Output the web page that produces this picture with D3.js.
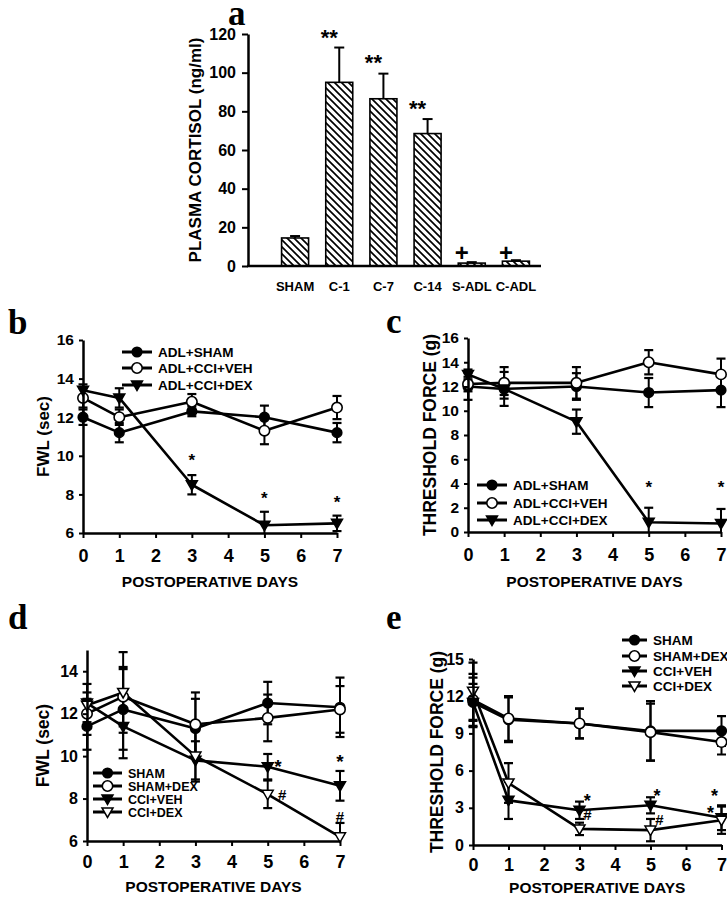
<!DOCTYPE html>
<html><head><meta charset="utf-8">
<script src="https://cdn.jsdelivr.net/npm/d3@7"></script>
<style>
body{margin:0;background:#fff}
text{font-family:"Liberation Sans",Arial,Helvetica,sans-serif;font-weight:bold;fill:#000}
text.panel{font-family:"Liberation Serif","Times New Roman",serif;font-weight:bold}
</style>
</head><body>
<svg id="fig" width="727" height="900"></svg>
<script>
// ---------- Panel a data ----------
const cortisolCategories = ["SHAM","C-1","C-7","C-14","S-ADL","C-ADL"];
const cortisolMeans = [14.5, 95, 86.5, 68.5, 1.5, 2.5];
const cortisolErrors = [1.0, 18, 13, 7.5, 0.5, 0.5];
const cortisolTicks = [0,20,40,60,80,100,120];
const cortisolMarkCats = ["C-1","C-7","C-14","S-ADL","C-ADL"];
const cortisolMarkValues = [120.8, 107.9, 84, 7, 7];
const cortisolMarkTexts = ["**","**","**","+","+"];

// ---------- Shared ----------
const days = [0,1,3,5,7];
const dayTicks = [0,1,2,3,4,5,6,7];

// ---------- Panel b data (FWL, sec) ----------
const bNames = ["ADL+SHAM","ADL+CCI+VEH","ADL+CCI+DEX"];
const bShamMean = [12.0, 11.2, 12.3, 12.0, 11.2];
const bShamErr  = [0.4, 0.5, 0.25, 0.6, 0.5];
const bVehMean  = [13.0, 12.0, 12.8, 11.3, 12.5];
const bVehErr   = [0.5, 0.4, 0.4, 0.7, 0.6];
const bDexMean  = [13.4, 13.0, 8.5, 6.4, 6.5];
const bDexErr   = [0.3, 0.5, 0.5, 0.7, 0.4];
const bTicks = [6,8,10,12,14,16];
const bMarkDays = [3,5,7];
const bMarkValues = [9.95, 7.97, 7.8];
const bMarkTexts = ["*","*","*"];

// ---------- Panel c data (threshold force, g) ----------
const cNames = ["ADL+SHAM","ADL+CCI+VEH","ADL+CCI+DEX"];
const cShamMean = [12.0, 11.8, 12.0, 11.5, 11.7];
const cShamErr  = [1.1, 1.4, 1.1, 1.2, 1.4];
const cVehMean  = [12.2, 12.3, 12.3, 14.0, 13.0];
const cVehErr   = [0.6, 1.3, 1.3, 1.0, 1.3];
const cDexMean  = [13.0, 11.8, 9.1, 0.8, 0.7];
const cDexErr   = [0.4, 0.5, 1.0, 1.2, 1.2];
const cTicks = [0,2,4,6,8,10,12,14,16];
const cMarkDays = [5,7];
const cMarkValues = [4.0, 4.0];
const cMarkTexts = ["*","*"];

// ---------- Panel d data (FWL, sec) ----------
const dNames = ["SHAM","SHAM+DEX","CCI+VEH","CCI+DEX"];
const dShamMean    = [11.4, 12.2, 11.3, 12.5, 12.3];
const dShamErr     = [1.1, 1.9, 1.4, 1.0, 1.4];
const dShamDexMean = [12.0, 12.8, 11.5, 11.8, 12.2];
const dShamDexErr  = [1.0, 1.4, 1.5, 1.1, 1.1];
const dCciVehMean  = [12.5, 11.4, 9.8, 9.5, 8.6];
const dCciVehErr   = [0.9, 1.5, 0.9, 0.6, 0.7];
const dCciDexMean  = [12.4, 13.0, 10.0, 8.2, 6.2];
const dCciDexErr   = [0.3, 1.9, 1.2, 0.65, 0.65];
const dTicks = [6,8,10,12,14];
const dMarkDays = [5.28, 5.40, 7.0, 7.0];
const dMarkValues = [9.72, 8.17, 9.96, 7.13];
const dMarkTexts = ["*","#","*","#"];

// ---------- Panel e data (threshold force, g) ----------
const eNames = ["SHAM","SHAM+DEX","CCI+VEH","CCI+DEX"];
const eShamMean    = [11.5, 10.1, 9.8, 9.2, 9.2];
const eShamErr     = [2.0, 1.8, 1.2, 2.4, 1.2];
const eShamDexMean = [11.7, 10.2, 9.8, 9.1, 8.3];
const eShamDexErr  = [2.1, 1.8, 1.2, 2.3, 1.0];
const eCciVehMean  = [11.5, 3.6, 2.8, 3.2, 2.2];
const eCciVehErr   = [1.5, 1.5, 0.7, 0.65, 1.0];
const eCciDexMean  = [12.4, 5.0, 1.3, 1.2, 2.0];
const eCciDexErr   = [2.3, 1.6, 0.5, 0.9, 1.1];
const eTicks = [0,3,6,9,12,15];
const eMarkDays = [3.22, 3.22, 5.18, 5.25, 6.8, 6.69];
const eMarkValues = [3.85, 2.4, 4.3, 2.0, 4.3, 2.9];
const eMarkTexts = ["*","#","*","#","*","*"];

// ---------- Drawing ----------
const svg = d3.select("#fig");
const defs = svg.append("defs");
const pat = defs.append("pattern").attr("id","hatch")
  .attr("patternUnits","userSpaceOnUse").attr("width",7).attr("height",7);
pat.append("rect").attr("width",7).attr("height",7).attr("fill","#fff");
pat.append("path").attr("d","M0,0L7,7M-2,5L2,9M5,-2L9,2")
  .attr("stroke","#000").attr("stroke-width",1.7);

function styleAxis(g, fs) {
  g.attr("font-family", null).attr("font-size", null);
  g.select(".domain").attr("stroke","#000").attr("stroke-width",2.5);
  g.selectAll(".tick line").attr("stroke","#000").attr("stroke-width",2);
  g.selectAll(".tick text").style("font-size", fs + "px");
}
function markDy(t){ return t.indexOf("*")>=0 ? "0.56em" : "0.34em"; }

function panelLetter(txt, x, y){
  svg.append("text").attr("class","panel").attr("x",x).attr("y",y)
    .style("font-size","35px").text(txt);
}

// ===== Panel a =====
(function(){
  const x = d3.scalePoint().domain(cortisolCategories).range([273,538]).padding(0.5);
  const y = d3.scaleLinear().domain([0,120]).range([266,34]);
  const barW = 27;
  const g = svg.append("g");
  g.selectAll("rect.bar").data(cortisolCategories).join("rect")
    .attr("x", c => x(c) - barW/2)
    .attr("y", (c,i) => y(cortisolMeans[i]))
    .attr("width", barW)
    .attr("height", (c,i) => y(0) - y(cortisolMeans[i]))
    .attr("fill","url(#hatch)").attr("stroke","#000").attr("stroke-width",1.6);
  cortisolCategories.forEach((c,i) => {
    const top = y(cortisolMeans[i] + cortisolErrors[i]);
    g.append("line").attr("x1",x(c)).attr("x2",x(c))
      .attr("y1",y(cortisolMeans[i])).attr("y2",top)
      .attr("stroke","#000").attr("stroke-width",2);
    g.append("line").attr("x1",x(c)-5).attr("x2",x(c)+5)
      .attr("y1",top).attr("y2",top).attr("stroke","#000").attr("stroke-width",2);
  });
  const ya = g.append("g").attr("transform","translate(248,0)")
    .call(d3.axisLeft(y).tickValues(cortisolTicks).tickSize(6).tickSizeOuter(0).tickPadding(6));
  styleAxis(ya, 16);
  g.append("line").attr("x1",247).attr("x2",541).attr("y1",y(0)).attr("y2",y(0))
    .attr("stroke","#000").attr("stroke-width",2.5);
  g.selectAll("text.cat").data(cortisolCategories).join("text")
    .attr("x", c => x(c)).attr("y", 291).attr("text-anchor","middle")
    .style("font-size","13px").text(c => c);
  cortisolMarkCats.forEach((c,i) => {
    const t = cortisolMarkTexts[i];
    g.append("text").attr("x", x(c) - 10).attr("y", y(cortisolMarkValues[i]))
      .attr("dy", markDy(t)).attr("text-anchor","middle")
      .style("font-size", t === "+" ? "24px" : "22px").text(t);
  });
  g.append("text").attr("transform","translate(195,150) rotate(-90)")
    .attr("text-anchor","middle").attr("dy","0.35em")
    .style("font-size","17px").text("PLASMA CORTISOL (ng/ml)");
})();
panelLetter("a", 228, 25);

// ===== Line panels =====
function drawMarker(g, type, cx, cy){
  if (type === "fc" || type === "oc") {
    g.append("circle").attr("cx",cx).attr("cy",cy).attr("r", type==="fc"?4.8:5.2)
      .attr("fill", type==="fc"?"#000":"#fff").attr("stroke","#000").attr("stroke-width",1.6);
  } else {
    g.append("path").attr("transform",`translate(${cx},${cy})`)
      .attr("d","M-5.5,-4L5.5,-4L0,5.5Z")
      .attr("fill", type==="ft"?"#000":"#fff").attr("stroke","#000").attr("stroke-width",1.5)
      .attr("stroke-linejoin","miter");
  }
}

function linePanel(cfg){
  const x = d3.scaleLinear().domain([0,7]).range([cfg.x0, cfg.x7]);
  const y = d3.scaleLinear().domain(cfg.yDomain).range([cfg.yBottom, cfg.yTop]);
  const g = svg.append("g");
  const clipId = "clip" + cfg.id;
  defs.append("clipPath").attr("id",clipId).append("rect")
    .attr("x",cfg.x0-20).attr("y",cfg.yTop-40).attr("width",cfg.x7-cfg.x0+40)
    .attr("height",cfg.yBottom-cfg.yTop+40);
  const plot = g.append("g").attr("clip-path",`url(#${clipId})`);
  const lineGen = d3.line().x((d,i)=>x(days[i])).y(d=>y(d));
  // error bars
  cfg.series.forEach(s => {
    s.mean.forEach((m,i) => {
      const e = s.err[i], cx = x(days[i]);
      plot.append("line").attr("x1",cx).attr("x2",cx).attr("y1",y(m-e)).attr("y2",y(m+e))
        .attr("stroke","#000").attr("stroke-width",2);
      [m-e, m+e].forEach(v => {
        plot.append("line").attr("x1",cx-4.5).attr("x2",cx+4.5).attr("y1",y(v)).attr("y2",y(v))
          .attr("stroke","#000").attr("stroke-width",2.2);
      });
    });
  });
  // lines
  cfg.series.forEach(s => {
    plot.append("path").datum(s.mean).attr("d",lineGen).attr("fill","none")
      .attr("stroke","#000").attr("stroke-width",2.6).attr("stroke-linejoin","round");
  });
  // markers
  cfg.series.forEach(s => {
    s.mean.forEach((m,i) => drawMarker(g, s.marker, x(days[i]), y(m)));
  });
  // axes
  const ya = g.append("g").attr("transform",`translate(${cfg.x0},0)`)
    .call(d3.axisLeft(y).tickValues(cfg.yTicks).tickSize(4).tickSizeOuter(0).tickPadding(5));
  styleAxis(ya, cfg.yFont);
  const xa = g.append("g").attr("transform",`translate(0,${cfg.yBottom})`)
    .call(d3.axisBottom(x).tickValues(dayTicks).tickFormat(d3.format("d"))
      .tickSize(5).tickSizeOuter(0).tickPadding(cfg.xPad));
  styleAxis(xa, 18);
  g.append("text").attr("x",(cfg.x0+cfg.x7)/2).attr("y",cfg.yBottom+cfg.titleOff)
    .attr("text-anchor","middle").style("font-size","15.5px").text("POSTOPERATIVE DAYS");
  g.append("text").attr("transform",`translate(${cfg.yTitleX},${(cfg.yTop+cfg.yBottom)/2}) rotate(-90)`)
    .attr("text-anchor","middle").attr("dy","0.35em").style("font-size",cfg.yTitleFont+"px").text(cfg.yTitle);
  // legend
  cfg.series.forEach((s,i) => {
    const ly = cfg.legendRows[i];
    g.append("line").attr("x1",cfg.legendX).attr("x2",cfg.legendX+cfg.legendLen)
      .attr("y1",ly).attr("y2",ly).attr("stroke","#000").attr("stroke-width",3);
    drawMarker(g, s.marker, cfg.legendX+cfg.legendLen/2, ly);
    g.append("text").attr("x",cfg.legendX+cfg.legendLen+6).attr("y",ly).attr("dy","0.36em")
      .style("font-size",cfg.legendFont+"px").text(s.name);
  });
  // significance marks
  cfg.marks.days.forEach((dd,i) => {
    const t = cfg.marks.texts[i];
    g.append("text").attr("x",x(dd)).attr("y",y(cfg.marks.values[i])).attr("dy",markDy(t))
      .attr("text-anchor","middle").style("font-size", t==="#" ? "15px" : cfg.starFont + "px").text(t);
  });
}

linePanel({id:"b", x0:83, x7:337, yTop:340, yBottom:533, yDomain:[6,16], yTicks:bTicks,
  yFont:15.5, xPad:11, titleOff:54, yTitle:"FWL (sec)", yTitleX:43, yTitleFont:17, starFont:17,
  legendX:122, legendLen:30, legendRows:[352,368,385], legendFont:13.5,
  series:[
    {name:bNames[0], mean:bShamMean, err:bShamErr, marker:"fc"},
    {name:bNames[1], mean:bVehMean, err:bVehErr, marker:"oc"},
    {name:bNames[2], mean:bDexMean, err:bDexErr, marker:"ft"}],
  marks:{days:bMarkDays, values:bMarkValues, texts:bMarkTexts}});
panelLetter("b", 8, 334);

linePanel({id:"c", x0:468, x7:721, yTop:338, yBottom:532, yDomain:[0,16], yTicks:cTicks,
  yFont:15.5, xPad:11, titleOff:55, yTitle:"THRESHOLD FORCE (g)", yTitleX:430, yTitleFont:17.5, starFont:17,
  legendX:477, legendLen:30, legendRows:[485,503,520], legendFont:13.5,
  series:[
    {name:cNames[0], mean:cShamMean, err:cShamErr, marker:"fc"},
    {name:cNames[1], mean:cVehMean, err:cVehErr, marker:"oc"},
    {name:cNames[2], mean:cDexMean, err:cDexErr, marker:"ft"}],
  marks:{days:cMarkDays, values:cMarkValues, texts:cMarkTexts}});
panelLetter("c", 386, 333);

linePanel({id:"d", x0:87, x7:340, yTop:650, yBottom:841, yDomain:[6,15], yTicks:dTicks,
  yFont:16, xPad:9, titleOff:51, yTitle:"FWL (sec)", yTitleX:43, yTitleFont:17.5, starFont:19,
  legendX:93, legendLen:29, legendRows:[773,786,799,812], legendFont:12.5,
  series:[
    {name:dNames[0], mean:dShamMean, err:dShamErr, marker:"fc"},
    {name:dNames[1], mean:dShamDexMean, err:dShamDexErr, marker:"oc"},
    {name:dNames[2], mean:dCciVehMean, err:dCciVehErr, marker:"ft"},
    {name:dNames[3], mean:dCciDexMean, err:dCciDexErr, marker:"ot"}],
  marks:{days:dMarkDays, values:dMarkValues, texts:dMarkTexts}});
panelLetter("d", 8, 629);

linePanel({id:"e", x0:473, x7:721.5, yTop:659, yBottom:845, yDomain:[0,15], yTicks:eTicks,
  yFont:16, xPad:8, titleOff:48, yTitle:"THRESHOLD FORCE (g)", yTitleX:437, yTitleFont:17.5, starFont:18,
  legendX:622, legendLen:25, legendRows:[640,656,671,686], legendFont:13.5,
  series:[
    {name:eNames[0], mean:eShamMean, err:eShamErr, marker:"fc"},
    {name:eNames[1], mean:eShamDexMean, err:eShamDexErr, marker:"oc"},
    {name:eNames[2], mean:eCciVehMean, err:eCciVehErr, marker:"ft"},
    {name:eNames[3], mean:eCciDexMean, err:eCciDexErr, marker:"ot"}],
  marks:{days:eMarkDays, values:eMarkValues, texts:eMarkTexts}});
panelLetter("e", 386, 629);
</script>
</body></html>
